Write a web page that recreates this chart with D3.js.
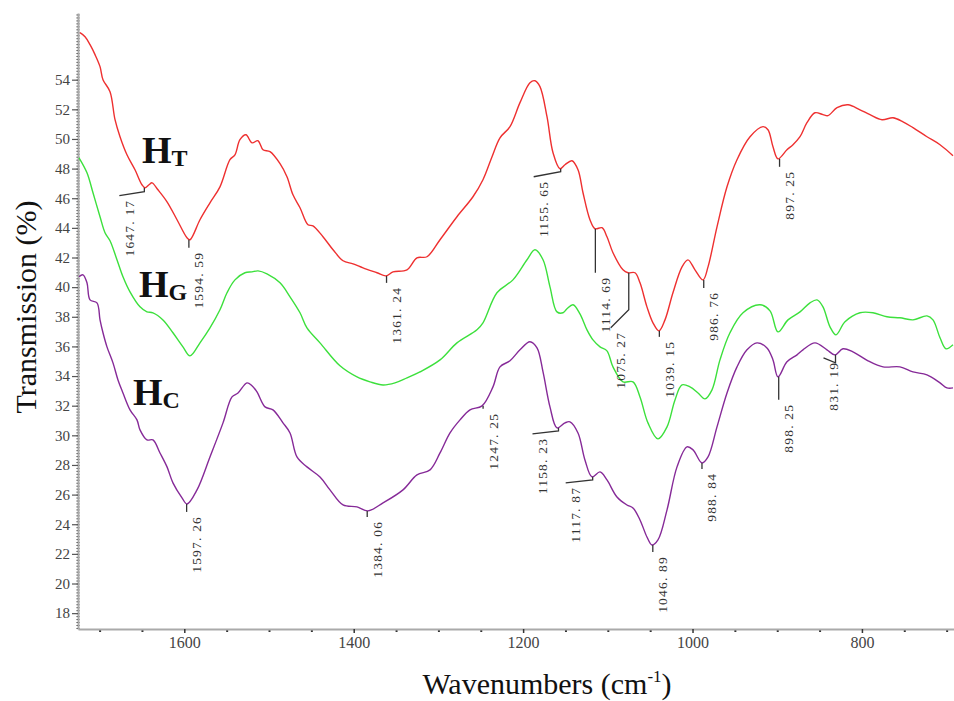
<!DOCTYPE html>
<html>
<head>
<meta charset="utf-8">
<title>FTIR spectra</title>
<script src="https://d3js.org/d3.v7.min.js"></script>
<style>
  body { margin: 0; background: #fff; }
  svg { display: block; }
  .tick text { font-family: "Liberation Serif", serif; fill: #444; }
</style>
</head>
<body>
<script>
// tick labels
const xTicks = [1600, 1400, 1200, 1000, 800];
const yTicks = d3.range(18, 55, 2);

// [wavenumber, transmission %]
const seriesHT = [[1723.2,57.17],[1717.2,56.90],[1711.3,56.36],[1705.4,55.69],[1699.5,54.88],[1696.0,54.00],[1687.7,53.19],[1681.8,51.30],[1675.9,50.15],[1667.7,48.93],[1658.2,47.92],[1650.0,46.91],[1646.4,46.71],[1641.7,46.91],[1638.1,47.04],[1631.1,46.57],[1620.4,45.76],[1608.6,44.55],[1596.8,43.33],[1593.3,43.20],[1581.5,44.55],[1569.7,45.69],[1557.9,46.77],[1546.1,48.60],[1540.2,48.93],[1534.3,49.95],[1527.2,50.28],[1520.1,49.74],[1513.0,49.88],[1507.1,49.27],[1498.8,49.14],[1487.0,48.33],[1478.8,47.45],[1471.7,46.23],[1463.4,45.36],[1454.0,44.21],[1448.1,44.14],[1436.3,43.40],[1424.4,42.52],[1412.6,41.78],[1400.8,41.57],[1389.0,41.30],[1372.5,40.97],[1361.9,40.76],[1353.6,41.03],[1337.1,41.17],[1325.3,41.98],[1313.5,42.05],[1298.1,43.20],[1278.1,44.75],[1259.2,46.10],[1247.4,47.25],[1236.7,48.80],[1227.3,50.08],[1215.5,50.83],[1203.7,52.45],[1191.9,53.80],[1186.0,53.93],[1180.1,53.53],[1171.8,51.50],[1164.7,49.07],[1156.5,47.99],[1150.6,48.26],[1142.3,48.53],[1135.2,47.92],[1129.3,46.37],[1121.1,44.55],[1115.1,43.94],[1106.9,44.01],[1101.0,43.40],[1093.9,42.32],[1082.1,41.17],[1076.2,40.97],[1067.9,40.97],[1062.0,40.29],[1053.8,38.67],[1046.7,37.59],[1039.6,37.05],[1032.5,37.79],[1023.1,39.62],[1012.4,41.37],[1005.4,41.84],[997.1,41.17],[987.6,40.49],[981.7,41.37],[971.1,44.07],[959.3,46.77],[947.5,48.60],[932.1,50.15],[916.8,50.83],[910.9,50.62],[905.0,49.47],[899.1,48.66],[888.5,49.27],[881.4,49.61],[873.1,50.15],[864.9,51.10],[855.4,51.77],[846.0,51.64],[840.1,51.57],[829.4,52.11],[816.4,52.31],[802.3,51.97],[790.5,51.64],[776.3,51.30],[763.3,51.43],[751.5,51.16],[739.7,50.76],[723.2,50.15],[707.8,49.61],[692.5,48.87]];

const seriesHG = [[1724.3,48.73],[1714.9,47.72],[1707.8,46.37],[1699.5,44.75],[1693.6,43.67],[1687.7,43.13],[1679.5,41.85],[1672.4,40.70],[1664.1,39.68],[1652.3,38.67],[1644.1,38.33],[1637.0,38.27],[1625.2,37.79],[1613.4,36.92],[1601.6,35.97],[1593.3,35.36],[1581.5,36.24],[1569.7,37.25],[1557.9,38.47],[1549.6,39.62],[1540.2,40.49],[1528.4,40.97],[1520.1,41.03],[1513.0,41.10],[1502.4,40.90],[1487.0,40.29],[1475.2,39.35],[1463.4,38.27],[1455.2,37.25],[1439.8,36.24],[1416.2,34.69],[1396.1,33.94],[1380.8,33.61],[1365.4,33.40],[1351.3,33.54],[1337.1,33.88],[1321.8,34.28],[1298.1,35.09],[1278.1,36.24],[1254.5,37.12],[1247.4,37.59],[1230.9,39.62],[1212.0,40.49],[1195.4,41.85],[1186.0,42.52],[1176.5,41.85],[1168.3,40.02],[1160.0,38.33],[1152.9,38.27],[1148.2,38.54],[1141.1,38.81],[1132.9,38.20],[1124.6,37.12],[1117.5,36.44],[1109.2,35.97],[1101.0,35.70],[1093.9,34.62],[1082.1,33.61],[1070.3,33.61],[1062.0,32.59],[1052.6,30.84],[1040.8,29.76],[1030.1,30.57],[1020.7,32.39],[1012.4,33.40],[1003.0,33.27],[993.5,32.86],[985.3,32.46],[977.0,33.07],[967.6,35.09],[955.8,36.92],[940.4,38.27],[920.3,38.81],[908.5,38.40],[899.1,36.98],[887.3,37.79],[873.1,38.33],[861.3,38.94],[853.0,39.14],[846.0,38.67],[837.7,37.32],[830.6,36.78],[820.0,37.66],[802.3,38.27],[787.0,38.27],[770.4,38.00],[755.1,37.93],[739.7,37.79],[723.2,38.06],[716.1,37.79],[707.8,36.58],[700.8,35.84],[692.5,36.11]];

const seriesHC = [[1724.3,40.70],[1719.6,40.83],[1714.9,40.29],[1711.3,39.14],[1703.1,38.94],[1699.5,37.79],[1696.0,36.92],[1691.3,35.97],[1684.2,34.89],[1678.3,33.74],[1672.4,32.86],[1664.1,31.72],[1655.9,31.04],[1652.3,30.37],[1644.1,29.69],[1637.0,29.69],[1628.7,28.81],[1620.4,27.87],[1613.4,26.79],[1602.7,25.78],[1596.8,25.37],[1585.0,26.32],[1569.7,28.54],[1554.3,30.84],[1543.7,32.59],[1536.6,32.86],[1526.0,33.54],[1520.1,33.34],[1514.2,32.93],[1504.7,31.92],[1495.3,31.72],[1483.5,30.84],[1475.2,30.16],[1467.0,28.54],[1455.2,27.87],[1439.8,27.19],[1428.0,26.32],[1412.6,25.30],[1396.1,25.17],[1383.2,24.90],[1365.4,25.44],[1341.8,26.32],[1325.3,27.33],[1309.9,27.67],[1298.1,28.81],[1286.3,30.16],[1274.5,31.04],[1262.7,31.72],[1248.5,31.99],[1235.6,33.27],[1227.3,34.62],[1215.5,35.03],[1203.7,35.77],[1191.9,36.31],[1183.6,35.90],[1176.5,34.28],[1168.3,31.92],[1160.0,30.50],[1150.6,30.84],[1144.7,30.91],[1135.2,30.16],[1127.0,28.34],[1118.7,27.20],[1109.2,27.53],[1101.0,26.99],[1089.2,25.84],[1077.4,25.30],[1070.3,25.10],[1062.0,24.29],[1053.8,23.14],[1047.9,22.60],[1040.8,22.94],[1030.1,24.97],[1018.3,27.87],[1006.5,29.22],[999.4,29.02],[988.8,28.14],[981.7,28.54],[971.1,30.57],[959.3,32.86],[947.5,34.62],[935.7,35.77],[923.9,36.24],[912.1,35.90],[905.0,35.09],[899.1,33.95],[888.5,34.96],[876.6,35.43],[869.6,35.77],[855.4,36.24],[841.3,35.77],[831.8,35.43],[822.4,35.84],[810.6,35.63],[792.8,35.03],[775.1,34.62],[755.1,34.62],[739.7,34.28],[723.2,34.08],[707.8,33.54],[699.6,33.20],[692.5,33.20]];

// labelled peaks [wavenumber, transmission %]
const peaksHT = [[1647.17,46.71],[1594.59,43.20],[1361.24,40.76],[1155.65,47.99],[1114.69,43.94],[1075.27,40.97],[1039.15,37.05],[986.76,40.49],[897.25,48.66]];
const peaksHC = [[1597.26,25.37],[1384.06,24.90],[1247.25,31.99],[1158.23,30.50],[1117.87,27.20],[1046.89,22.60],[988.84,28.14],[898.25,33.95],[831.19,35.43]];

// leader line bends in px, relative to the peak point
const leadersHT = [[[0,4],[-25,8]], [[0,8]], [[0,7]], [[0,3],[-27,8]], [[0,44]], [[0,37],[-18,55]], [[0,6]], [[0,8]], [[0,8]]];
const leadersHC = [[[0,8]], [[0,6]], [[0,3]], [[0,3],[-26,6]], [[0,3],[-27,6]], [[0,7]], [[0,6]], [[0,23]], [[0,8],[-12,3]]];

const width = 954, height = 701;
const plot = { left: 78, right: 954, top: 13, bottom: 629 };

const svg = d3.select("body").append("svg")
  .attr("width", width)
  .attr("height", height);

const x = d3.scaleLinear().domain([1725.5, 691.3]).range([plot.left, plot.right]);
const y = d3.scaleLinear().domain([16.93, 58.5]).range([plot.bottom, plot.top]);

// minor ticks
svg.append("g")
  .attr("transform", "translate(" + (plot.left + 1.5) + ",0)")
  .call(d3.axisLeft(y).tickValues(d3.range(17, 58.5, 0.2)).tickSize(3).tickSizeOuter(0).tickFormat(""))
  .call(g => g.select(".domain").remove())
  .call(g => g.selectAll("line").attr("stroke", "#333").attr("stroke-width", 1));

svg.append("g")
  .attr("transform", "translate(0," + (plot.bottom + 1.5) + ")")
  .call(d3.axisBottom(x).tickValues(d3.range(700, 1725, 50).filter(v => v % 200 !== 0)).tickSize(0).tickSizeOuter(0).tickFormat(""))
  .call(g => g.select(".domain").remove())
  .call(g => g.selectAll("line").attr("y1", -1.5).attr("y2", 1.5).attr("stroke", "#333").attr("stroke-width", 2));

// y axis
svg.append("g")
  .attr("transform", "translate(" + plot.left + ",0)")
  .call(d3.axisLeft(y).tickValues(yTicks).tickSize(6).tickPadding(2).tickSizeOuter(0).tickFormat(d3.format("d")))
  .call(g => g.select(".domain").attr("stroke", "#aaa").attr("stroke-width", 2))
  .call(g => g.selectAll(".tick line").attr("stroke", "#555").attr("stroke-width", 1.2))
  .call(g => g.selectAll(".tick text").attr("font-size", 15));

// x axis
svg.append("g")
  .attr("transform", "translate(0," + plot.bottom + ")")
  .call(d3.axisBottom(x).tickValues(xTicks).tickSize(4).tickPadding(4).tickSizeOuter(0).tickFormat(d3.format("d")))
  .call(g => g.select(".domain").attr("stroke", "#aaa").attr("stroke-width", 2))
  .call(g => g.selectAll(".tick line").attr("stroke", "#333").attr("stroke-width", 1.5))
  .call(g => g.selectAll(".tick text").attr("font-size", 16));

// spectra
const line = d3.line()
  .x(d => x(d[0]))
  .y(d => y(d[1]))
  .curve(d3.curveCatmullRom.alpha(0.5));

const spectra = [
  { data: seriesHT, color: "#ee3030" },
  { data: seriesHG, color: "#3ce03c" },
  { data: seriesHC, color: "#862a98" }
];

svg.selectAll(".spectrum")
  .data(spectra)
  .enter()
  .append("path")
  .attr("class", "spectrum")
  .attr("d", d => line(d.data))
  .attr("fill", "none")
  .attr("stroke", d => d.color)
  .attr("stroke-width", 1.4);

// peak labels
function drawPeaks(peaks, leaders) {
  peaks.forEach((p, i) => {
    const px = x(p[0]), py = y(p[1]);
    const pts = [[px, py]].concat(leaders[i].map(o => [px + o[0], py + o[1]]));
    svg.append("path")
      .attr("d", d3.line()(pts))
      .attr("fill", "none")
      .attr("stroke", "#333")
      .attr("stroke-width", 1.3);
    const end = pts[pts.length - 1];
    const tx = end[0] + 10, ty = end[1] + 4;
    svg.append("text")
      .attr("transform", "translate(" + tx + "," + ty + ") rotate(-90)")
      .attr("text-anchor", "end")
      .attr("dominant-baseline", "central")
      .attr("font-family", "Liberation Serif, serif")
      .attr("font-size", 13.5)
      .attr("letter-spacing", 1.2)
      .attr("fill", "#333")
      .text(p[0].toFixed(2).replace(".", ". "));
  });
}
drawPeaks(peaksHT, leadersHT);
drawPeaks(peaksHC, leadersHC);

// series names
const names = [
  { sub: "T", w: 1650, v: 48.4 },
  { sub: "G", w: 1653.5, v: 39.35 },
  { sub: "C", w: 1660.6, v: 32.05 }
];
names.forEach(n => {
  const t = svg.append("text")
    .attr("x", x(n.w))
    .attr("y", y(n.v))
    .attr("font-family", "Liberation Serif, serif")
    .attr("font-weight", "bold")
    .attr("font-size", 38)
    .attr("fill", "#111")
    .text("H");
  t.append("tspan")
    .attr("font-size", 24)
    .attr("dx", 0)
    .attr("dy", 3)
    .text(n.sub);
});

// axis titles
svg.append("text")
  .attr("transform", "translate(25,307) rotate(-90)")
  .attr("text-anchor", "middle")
  .attr("dominant-baseline", "central")
  .attr("font-family", "Liberation Serif, serif")
  .attr("font-size", 30)
  .attr("fill", "#111")
  .text("Transmission (%)");

const xt = svg.append("text")
  .attr("x", 547)
  .attr("y", 694)
  .attr("text-anchor", "middle")
  .attr("font-family", "Liberation Serif, serif")
  .attr("font-size", 30)
  .attr("fill", "#111")
  .text("Wavenumbers (cm");
xt.append("tspan").attr("font-size", 17).attr("dy", -12).text("-1");
xt.append("tspan").attr("dy", 12).text(")");
</script>
</body>
</html>
